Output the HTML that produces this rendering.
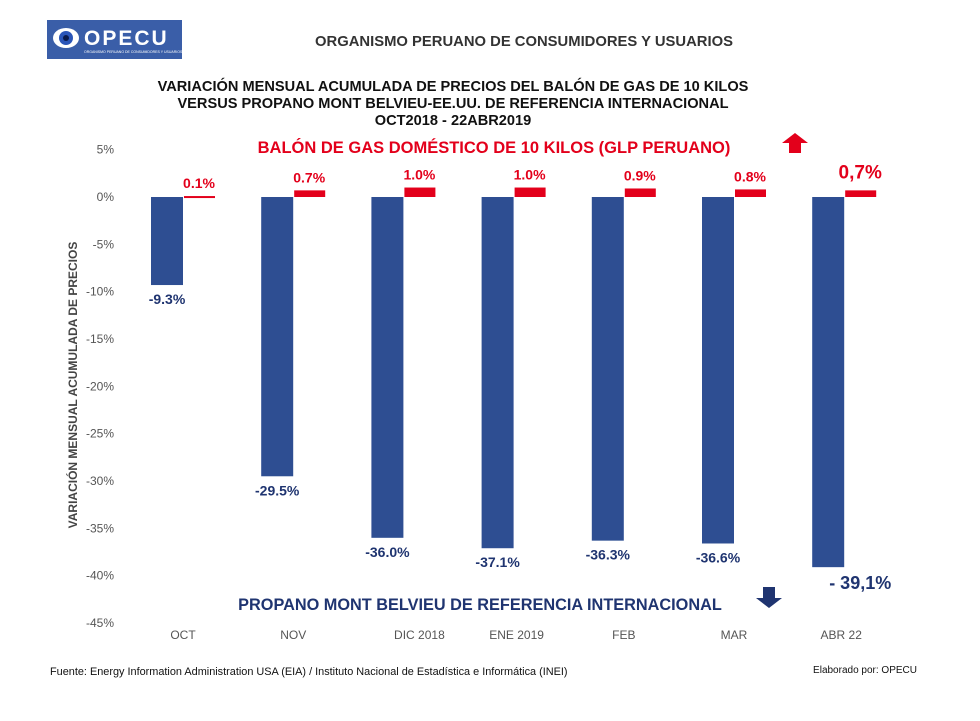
<!DOCTYPE html>
<html><head><meta charset="utf-8"><style>
body{margin:0;background:#fff;font-family:"Liberation Sans",sans-serif;}
svg{display:block}
</style></head><body>
<svg width="980" height="721" viewBox="0 0 980 721">
<g>
<rect x="47" y="20" width="135" height="39" fill="#3a5ea8"/>
<ellipse cx="66" cy="38" rx="13" ry="10" fill="#fff"/>
<circle cx="66" cy="38" r="7" fill="#2a55b8"/><circle cx="66" cy="38" r="3" fill="#0a1a4a"/>
<text x="84" y="45" font-size="21" font-weight="bold" fill="#fff" letter-spacing="2">OPECU</text>
<text x="84" y="53" font-size="3.5" fill="#fff">ORGANISMO PERUANO DE CONSUMIDORES Y USUARIOS</text>
</g>
<text x="524" y="46" font-size="14.8" font-weight="bold" fill="#333" text-anchor="middle">ORGANISMO PERUANO DE CONSUMIDORES Y USUARIOS</text>
<g font-size="14.6" font-weight="bold" fill="#111" text-anchor="middle">
<text x="453" y="91">VARIACIÓN MENSUAL ACUMULADA DE PRECIOS DEL BALÓN DE GAS DE 10 KILOS</text>
<text x="453" y="108">VERSUS PROPANO MONT BELVIEU-EE.UU. DE REFERENCIA INTERNACIONAL</text>
<text x="453" y="125">OCT2018 - 22ABR2019</text>
</g>
<text x="494" y="153" font-size="16.5" font-weight="bold" fill="#e3001b" text-anchor="middle">BALÓN DE GAS DOMÉSTICO DE 10 KILOS (GLP PERUANO)</text>
<text x="480" y="610" font-size="16.3" font-weight="bold" fill="#1f3470" text-anchor="middle">PROPANO MONT BELVIEU DE REFERENCIA INTERNACIONAL</text>
<text transform="translate(77,385) rotate(-90)" font-size="12" font-weight="bold" fill="#444" text-anchor="middle">VARIACIÓN MENSUAL ACUMULADA DE PRECIOS</text>
<path d="M795 133 L808 143 L801 143 L801 153 L789 153 L789 143 L782 143 Z" fill="#e3001b"/>
<path d="M769 608 L782 598 L775 598 L775 587 L763 587 L763 598 L756 598 Z" fill="#1f3470"/>
<g id="axis"></g><g id="bars"></g>
<text x="50" y="675" font-size="10.9" fill="#111">Fuente: Energy Information Administration USA (EIA) / Instituto Nacional de Estadística e Informática (INEI)</text>
<text x="917" y="673" font-size="10" fill="#111" text-anchor="end">Elaborado por: OPECU</text>
</svg>
<script>
const categories=["OCT","NOV","DIC 2018","ENE 2019","FEB","MAR","ABR 22"];
const propano=[-9.3,-29.5,-36.0,-37.1,-36.3,-36.6,-39.1];
const glp=[0.1,0.7,1.0,1.0,0.9,0.8,0.7];
const propanoLabels=["-9.3%","-29.5%","-36.0%","-37.1%","-36.3%","-36.6%","- 39,1%"];
const glpLabels=["0.1%","0.7%","1.0%","1.0%","0.9%","0.8%","0,7%"];
const yTicks=[5,0,-5,-10,-15,-20,-25,-30,-35,-40,-45];
const NS="http://www.w3.org/2000/svg";
const y=v=>197-v*9.467;
const xc=i=>183+i*110.2;
function mk(tag,at,parent,txt){const e=document.createElementNS(NS,tag);for(const k in at)e.setAttribute(k,at[k]);if(txt!==undefined)e.textContent=txt;parent.appendChild(e);return e;}
const ax=document.getElementById('axis'),bg=document.getElementById('bars');
yTicks.forEach(t=>{const e=mk('text',{x:114,y:y(t)+4,'font-size':12,fill:'#555','text-anchor':'end'},ax,t+'%');

});
categories.forEach((c,i)=>{
const last=i===categories.length-1;
const e=mk('text',{x:xc(i)+(i===2?16:i===3?3:i===6?-3:0),y:639,'font-size':12,fill:'#555','text-anchor':'middle'},ax,c);


const b=mk('rect',{x:xc(i)-32,y:y(0),width:32,height:y(propano[i])-y(0),fill:'#2e4e92'},bg);


const r=mk('rect',{x:xc(i)+1,y:y(glp[i]),width:31,height:Math.max(2,y(0)-y(glp[i])),fill:'#e3001b'},bg);


const pl=mk('text',{x:last?xc(i)-15:xc(i)-16,y:last?y(propano[i])+22:y(propano[i])+19,'font-size':last?18:14,'font-weight':'bold',fill:'#1f3470','text-anchor':last?'start':'middle'},bg,propanoLabels[i]);


const gl=mk('text',{x:xc(i)+16,y:last?y(glp[i])-12:y(glp[i])-8,'font-size':last?19:14,'font-weight':'bold',fill:'#e3001b','text-anchor':'middle'},bg,glpLabels[i]);


});
</script>
</body></html>
